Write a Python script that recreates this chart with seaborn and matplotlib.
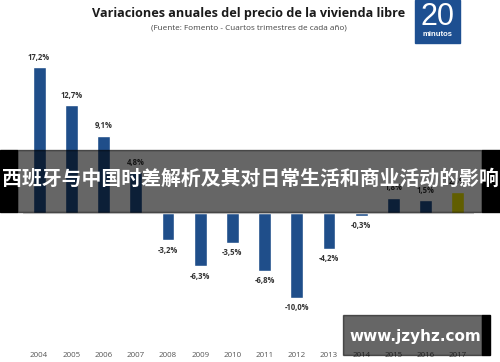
import matplotlib
matplotlib.use("Agg")
import matplotlib.pyplot as plt
import seaborn as sns
from matplotlib.patches import Rectangle

# -----------------------------
# data
# -----------------------------
years = ["2004", "2005", "2006", "2007", "2008", "2009", "2010",
         "2011", "2012", "2013", "2014", "2015", "2016", "2017"]
values = [17.2, 12.7, 9.1, 4.8, -3.2, -6.3, -3.5,
          -6.8, -10.0, -4.2, -0.3, 1.8, 1.5, 2.5]
bar_colors = ["#1f4e8a"] * 13 + ["#f2ec00"]

title = "Variaciones anuales del precio de la vivienda libre"
subtitle = "(Fuente: Fomento - Cuartos trimestres de cada año)"
banner = "西班牙与中国时差解析及其对日常生活和商业活动的影响"
watermark = "www.jzyhz.com"

sns.set_style("white")
plt.rcParams['font.family'] = ['Open Sans', 'Noto Sans CJK SC', 'DejaVu Sans']

W, H = 500, 362
fig = plt.figure(figsize=(5, 3.62), dpi=100)
ax = fig.add_axes([23 / W, 43 / H, 451 / W, 267 / H])

sns.barplot(x=years, y=values, hue=years, palette=bar_colors, legend=False,
            width=0.4, ax=ax, saturation=1)

for cont in ax.containers:
    ax.bar_label(cont, fmt=lambda v: f"{v:.1f}%".replace(".", ","),
                 fontsize=5.5, fontweight='bold', color='#333333', padding=4)

ax.axhline(0, color='#d0d0d0', lw=0.8)
ax.set_ylim(-12.5, 19)
ax.set_xlim(-0.5, 13.5)
ax.set_yticks([])
ax.tick_params(axis='x', length=0, pad=24, labelsize=5.7, labelcolor='#555555')
sns.despine(ax=ax, left=True, bottom=True)

# title block
fig.text(249 / W, 1 - 14 / H, title, ha='center', va='center',
         fontsize=9.1, fontweight='bold', color='#1a1a1a')
fig.text(249 / W, 1 - 28 / H, subtitle, ha='center', va='center',
         fontsize=5.9, color='#444444')

# 20 minutos logo
fig.add_artist(Rectangle((415 / W, 1 - 43 / H), 45 / W, 43 / H,
                         transform=fig.transFigure, color='#1d4f91', zorder=5))
fig.text(437.5 / W, 1 - 17 / H, "20", ha='center', va='center', fontsize=22,
         color='white', family='Liberation Sans', zorder=6)
fig.text(437.5 / W, 1 - 35 / H, "minutos", ha='center', va='center', fontsize=5.5,
         fontweight='bold', color='white', family='Liberation Sans', zorder=6)

# dark banner with chinese headline
fig.add_artist(Rectangle((17 / W, 1 - 212 / H), 465 / W, 62 / H,
                         transform=fig.transFigure, color='black', alpha=0.6, zorder=5))
fig.add_artist(Rectangle((0, 1 - 212 / H), 17 / W, 62 / H,
                         transform=fig.transFigure, color='black', zorder=5))
fig.add_artist(Rectangle((482 / W, 1 - 212 / H), 18 / W, 62 / H,
                         transform=fig.transFigure, color='black', zorder=5))
fig.text(0.5, 1 - 178 / H, banner, ha='center', va='center', fontsize=14.3,
         fontweight='bold', color='white', family=['Noto Sans CJK SC', 'DejaVu Sans'],
         zorder=6)

# watermark
fig.add_artist(Rectangle((343 / W, 1 - 355 / H), 139 / W, 40 / H,
                         transform=fig.transFigure, color='black', alpha=0.6, zorder=5))
fig.add_artist(Rectangle((482 / W, 1 - 355 / H), 8 / W, 40 / H,
                         transform=fig.transFigure, color='black', zorder=5))
fig.text(415 / W, 1 - 336 / H, watermark, ha='center', va='center', fontsize=11,
         fontweight='bold', color='white', family='DejaVu Sans', zorder=6)

fig.savefig("out.png", dpi=100)
